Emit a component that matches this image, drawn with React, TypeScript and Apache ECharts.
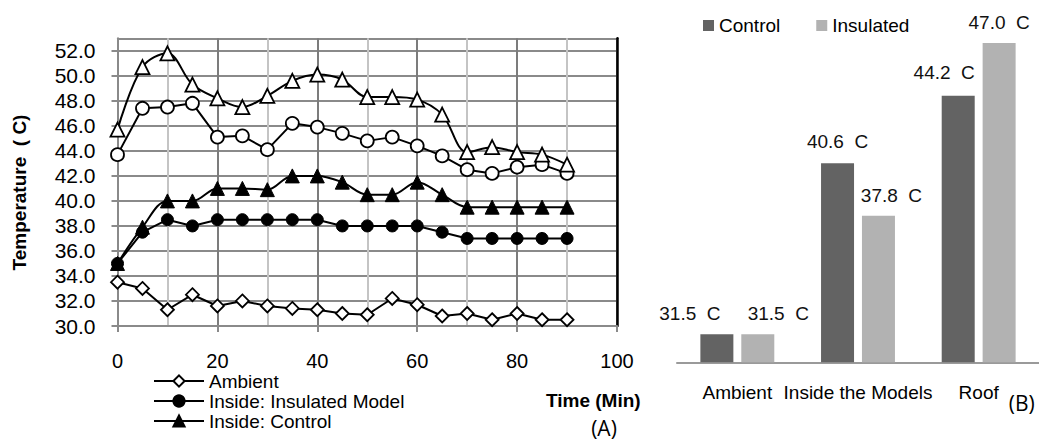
import React, { useEffect, useRef } from "react";
import * as echarts from "echarts";

// ---- Panel (A): temperature over time ----
const timeMinutes = [0, 5, 10, 15, 20, 25, 30, 35, 40, 45, 50, 55, 60, 65, 70, 75, 80, 85, 90];
const ambient = [33.5, 33.0, 31.3, 32.5, 31.6, 32.0, 31.6, 31.4, 31.3, 31.0, 30.9, 32.2, 31.7, 30.8, 31.0, 30.5, 31.0, 30.5, 30.5];
const insideInsulated = [35.0, 37.5, 38.5, 38.0, 38.5, 38.5, 38.5, 38.5, 38.5, 38.0, 38.0, 38.0, 38.0, 37.5, 37.0, 37.0, 37.0, 37.0, 37.0];
const insideControl = [35.0, 37.9, 40.0, 40.0, 41.0, 41.0, 40.9, 42.0, 42.0, 41.5, 40.5, 40.5, 41.5, 40.5, 39.5, 39.5, 39.5, 39.5, 39.5];
const roofInsulated = [43.7, 47.4, 47.5, 47.8, 45.1, 45.2, 44.1, 46.2, 45.9, 45.4, 44.8, 45.1, 44.4, 43.6, 42.5, 42.2, 42.7, 42.9, 42.2];
const roofControl = [45.7, 50.7, 51.8, 49.3, 48.2, 47.5, 48.4, 49.6, 50.1, 49.7, 48.3, 48.3, 48.1, 46.9, 43.9, 44.3, 43.9, 43.7, 42.9];
const lineLegendNames = ["Ambient", "Inside: Insulated Model", "Inside: Control"];

// ---- Panel (B): averages ----
const barCategories = ["Ambient", "Inside the Models", "Roof"];
const controlBars = [31.5, 40.6, 44.2];
const insulatedBars = [31.5, 37.8, 47.0];
const controlLabelShift = [[-27, 0], [0, -1], [-14, -3]];
const insulatedLabelShift = [[20.5, 0], [13, 0], [0, 0]];

const FONT = "'Liberation Sans', Arial, sans-serif";

const pairs = (vals: number[]) => vals.map((v, i) => [timeMinutes[i], v]);

export default function App() {
  const ref = useRef<HTMLDivElement>(null);
  useEffect(() => {
    if (!ref.current) return;
    const chart = echarts.init(ref.current, undefined, { renderer: "svg" });
    const lineStyle = { color: "#000", width: 2 };
    const barLabel = (shift: number[][]) => (v: number, i: number) => ({
      value: v,
      label: { offset: shift[i] },
    });
    chart.setOption({
      animation: false,
      textStyle: { fontFamily: FONT },
      grid: [
        { left: 117.5, right: 422, top: 38.3, bottom: 115 },
        { left: 677, right: -4, top: 24.3, bottom: 78.7 },
      ],
      xAxis: [
        {
          type: "value",
          gridIndex: 0,
          min: 0,
          max: 100,
          interval: 20,
          axisLine: { show: true, onZero: false, lineStyle: { color: "#8a8a8a", width: 2 } },
          axisTick: { show: true, length: 6, lineStyle: { color: "#8a8a8a", width: 2 } },
          axisLabel: { color: "#000", fontSize: 20, margin: 25, fontFamily: FONT },
          splitLine: { show: true, lineStyle: { color: "#7c7c7c", width: 2 } },
          minorTick: { show: false, splitNumber: 2 },
          minorSplitLine: { show: true, lineStyle: { color: "#c4c4c4", width: 2 } },
        },
        {
          type: "category",
          gridIndex: 1,
          data: barCategories,
          axisLine: { show: true, lineStyle: { color: "#9a9a9a", width: 2 } },
          axisTick: { show: false },
          axisLabel: { color: "#000", fontSize: 19, margin: 21, fontFamily: FONT, interval: 0 },
          splitLine: { show: false },
        },
      ],
      yAxis: [
        {
          type: "value",
          gridIndex: 0,
          min: 30,
          max: 53,
          interval: 2,
          axisLine: { show: true, lineStyle: { color: "#8a8a8a", width: 2 } },
          axisTick: { show: true, length: 6, lineStyle: { color: "#8a8a8a", width: 2 } },
          axisLabel: {
            color: "#000",
            fontSize: 21,
            margin: 22,
            fontFamily: FONT,
            showMaxLabel: false,
            formatter: (v: number) => v.toFixed(1),
          },
          splitLine: { show: true, lineStyle: { color: "#8a8a8a", width: 2 } },
        },
        {
          type: "value",
          gridIndex: 0,
          position: "right",
          min: 30,
          max: 53,
          interval: 2,
          axisLine: { show: true, lineStyle: { color: "#000", width: 2.5 } },
          axisTick: { show: false },
          axisLabel: { show: false },
          splitLine: { show: false },
        },
        {
          type: "value",
          gridIndex: 1,
          min: 30,
          max: 48,
          show: false,
          splitLine: { show: false },
        },
      ],
      legend: [
        {
          data: lineLegendNames,
          orient: "vertical",
          left: 153,
          top: 371,
          itemWidth: 50,
          itemHeight: 14,
          itemGap: 0,
          padding: 0,
          textStyle: { color: "#000", fontSize: 19, lineHeight: 20, fontFamily: FONT },
        },
        {
          data: ["Control", "Insulated"],
          orient: "horizontal",
          left: 703,
          top: 16,
          icon: "rect",
          itemWidth: 11,
          itemHeight: 11,
          itemGap: 36,
          padding: 0,
          textStyle: { color: "#000", fontSize: 19, fontFamily: FONT },
        },
      ],
      series: [
        {
          name: "Ambient",
          type: "line",
          xAxisIndex: 0,
          yAxisIndex: 0,
          data: pairs(ambient),
          symbol: "diamond",
          symbolSize: 13,
          lineStyle,
          itemStyle: { color: "#fff", borderColor: "#000", borderWidth: 1.8 },
        },
        {
          name: "Inside: Insulated Model",
          type: "line",
          xAxisIndex: 0,
          yAxisIndex: 0,
          data: pairs(insideInsulated),
          symbol: "circle",
          symbolSize: 12,
          lineStyle,
          itemStyle: { color: "#000", borderColor: "#000", borderWidth: 1 },
        },
        {
          name: "Inside: Control",
          type: "line",
          xAxisIndex: 0,
          yAxisIndex: 0,
          data: pairs(insideControl),
          smooth: 0.35,
          symbol: "triangle",
          symbolSize: 14,
          lineStyle,
          itemStyle: { color: "#000", borderColor: "#000", borderWidth: 1 },
        },
        {
          name: "Roof: Insulated",
          type: "line",
          xAxisIndex: 0,
          yAxisIndex: 0,
          data: pairs(roofInsulated),
          symbol: "circle",
          symbolSize: 13,
          lineStyle,
          itemStyle: { color: "#fff", borderColor: "#000", borderWidth: 1.8 },
        },
        {
          name: "Roof: Control",
          type: "line",
          xAxisIndex: 0,
          yAxisIndex: 0,
          data: pairs(roofControl),
          smooth: 0.35,
          symbol: "triangle",
          symbolSize: 14,
          lineStyle,
          itemStyle: { color: "#fff", borderColor: "#000", borderWidth: 1.8 },
        },
        {
          name: "Control",
          type: "bar",
          xAxisIndex: 1,
          yAxisIndex: 2,
          barWidth: 33,
          barGap: "24%",
          data: controlBars.map(barLabel(controlLabelShift)),
          itemStyle: { color: "#636363" },
          label: {
            show: true,
            position: "top",
            distance: 11,
            color: "#111",
            fontSize: 19,
            fontFamily: FONT,
            formatter: (p: any) => `${Number(p.value).toFixed(1)}  C`,
          },
        },
        {
          name: "Insulated",
          type: "bar",
          xAxisIndex: 1,
          yAxisIndex: 2,
          barWidth: 33,
          barGap: "24%",
          data: insulatedBars.map(barLabel(insulatedLabelShift)),
          itemStyle: { color: "#b2b2b2" },
          label: {
            show: true,
            position: "top",
            distance: 11,
            color: "#111",
            fontSize: 19,
            fontFamily: FONT,
            formatter: (p: any) => `${Number(p.value).toFixed(1)}  C`,
          },
        },
      ],
      graphic: [
        {
          type: "text",
          x: 19,
          y: 192.5,
          rotation: Math.PI / 2,
          style: {
            text: "Temperature  ( C)",
            font: `bold 19px ${FONT}`,
            fill: "#000",
            align: "center",
            verticalAlign: "middle",
          },
        },
        {
          type: "text",
          x: 593.3,
          y: 400,
          style: {
            text: "Time (Min)",
            font: `bold 19px ${FONT}`,
            fill: "#000",
            align: "center",
            verticalAlign: "middle",
          },
        },
        {
          type: "text",
          x: 604,
          y: 428,
          style: {
            text: "(A)",
            font: `21px 'Open Sans', sans-serif`,
            fill: "#000",
            align: "center",
            verticalAlign: "middle",
          },
        },
        {
          type: "text",
          x: 1021.7,
          y: 402.5,
          style: {
            text: "(B)",
            font: `21px 'Open Sans', sans-serif`,
            fill: "#000",
            align: "center",
            verticalAlign: "middle",
          },
        },
      ],
    });
    return () => chart.dispose();
  }, []);
  return (
    <div
      ref={ref}
      style={{ position: "fixed", left: 0, top: 0, width: 1039, height: 441, background: "#fff" }}
    />
  );
}
